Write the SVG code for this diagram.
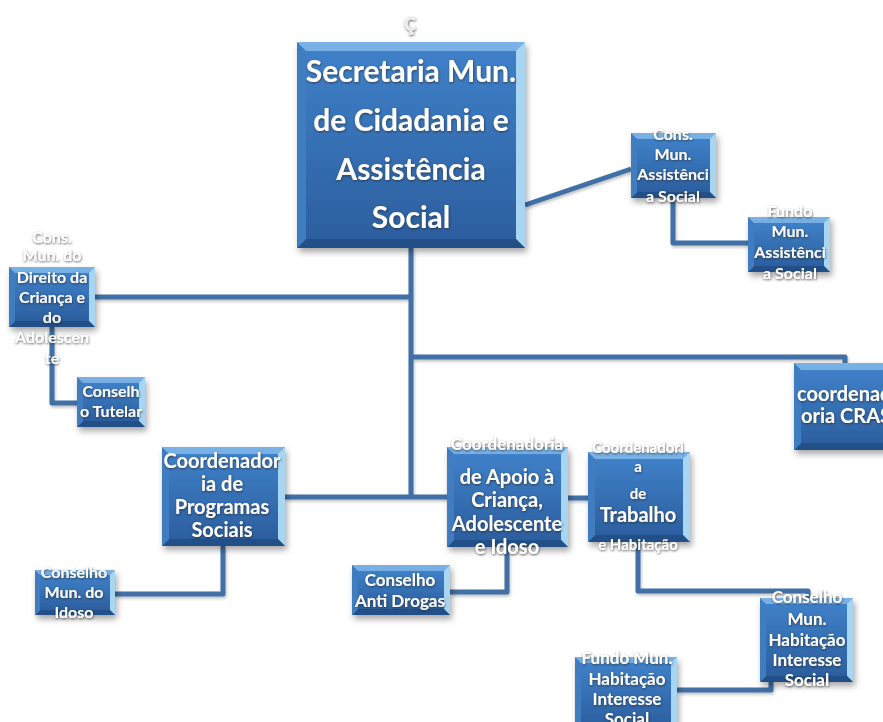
<svg xmlns="http://www.w3.org/2000/svg" width="883" height="722" viewBox="0 0 883 722">
<defs>
<linearGradient id="gin" x1="0" y1="0" x2="0" y2="1">
<stop offset="0" stop-color="#3f80c8"/>
<stop offset="1" stop-color="#2c5f9f"/>
</linearGradient>
<linearGradient id="gtop" x1="0" y1="0" x2="0" y2="1">
<stop offset="0" stop-color="#7ab2e6"/>
<stop offset="1" stop-color="#4f8ccc"/>
</linearGradient>
<filter id="bs" x="-20%" y="-20%" width="140%" height="150%">
<feDropShadow dx="2" dy="4" stdDeviation="3" flood-color="#000" flood-opacity="0.35"/>
</filter>
<filter id="ts" x="-20%" y="-30%" width="140%" height="160%">
<feDropShadow dx="0.5" dy="1" stdDeviation="1.2" flood-color="#2a2a2a" flood-opacity="0.75"/>
</filter>
<filter id="ls" x="-10%" y="-10%" width="120%" height="120%">
<feDropShadow dx="1" dy="2" stdDeviation="1.5" flood-color="#000" flood-opacity="0.25"/>
</filter>
</defs>
<style>
.bt{fill:url(#gtop)}
.bl{fill:#3f7cc0}
.br{fill:#a8d6f2}
.bb{fill:#234f88}
.in{fill:url(#gin)}
.box{filter:url(#bs)}
.t{fill:#ffffff;font-family:Lato,"Open Sans",sans-serif;font-weight:bold;text-anchor:middle;filter:url(#ts)}
.conn path{fill:none;stroke:#3f6fa6;stroke-width:5;stroke-linejoin:round}
</style>
<rect width="883" height="722" fill="#ffffff"/>

<g id="connectors" class="conn" filter="url(#ls)">
<path d="M525 205 L631 169"/>
<path d="M673 198 V243 H748"/>
<path d="M411 248 V498"/>
<path d="M95 297 H411"/>
<path d="M411 357 H845 V363"/>
<path d="M285 497 H447"/>
<path d="M52 327 V403 H77"/>
<path d="M223 546 V594 H115"/>
<path d="M568 498 H588"/>
<path d="M507 547 V592 H450"/>
<path d="M638 542 V591 H808 V598"/>
<path d="M771 682 V690 H677"/>
</g>

<g id="secretaria">
<g class="box">
<rect class="bt" x="297" y="42" width="228" height="206"/>
<path class="br" d="M525 42 L525 248 L516 239 L516 51 Z"/>
<path class="bb" d="M297 248 L525 248 L516 239 L306 239 Z"/>
<path class="bl" d="M297 42 L306 51 L306 239 L297 248 Z"/>
<rect class="in" x="306" y="51" width="210" height="188"/>
</g>
<text class="t" x="410" y="31" font-size="26" style="fill:#ececec">ç</text>
<text class="t" font-size="30"><tspan x="411" y="82">Secretaria Mun.</tspan><tspan x="411" y="131">de Cidadania e</tspan><tspan x="411" y="180">Assistência</tspan><tspan x="411" y="228">Social</tspan></text>
</g>

<g id="cons-assistencia">
<g class="box">
<rect class="bt" x="631" y="133" width="85" height="65"/>
<path class="br" d="M716 133 L716 198 L710 192 L710 139 Z"/>
<path class="bb" d="M631 198 L716 198 L710 192 L637 192 Z"/>
<path class="bl" d="M631 133 L637 139 L637 192 L631 198 Z"/>
<rect class="in" x="637" y="139" width="73" height="53"/>
</g>
<text class="t" font-size="16"><tspan x="673" y="140">Cons.</tspan><tspan x="673" y="160">Mun.</tspan><tspan x="673" y="180">Assistênci</tspan><tspan x="673" y="202">a Social</tspan></text>
</g>

<g id="fundo-assistencia">
<g class="box">
<rect class="bt" x="748" y="217" width="82" height="55"/>
<path class="br" d="M830 217 L830 272 L824 266 L824 223 Z"/>
<path class="bb" d="M748 272 L830 272 L824 266 L754 266 Z"/>
<path class="bl" d="M748 217 L754 223 L754 266 L748 272 Z"/>
<rect class="in" x="754" y="223" width="70" height="43"/>
</g>
<text class="t" font-size="16"><tspan x="790" y="217">Fundo</tspan><tspan x="790" y="237">Mun.</tspan><tspan x="790" y="258">Assistênci</tspan><tspan x="790" y="279">a Social</tspan></text>
</g>

<g id="cmdca">
<g class="box">
<rect class="bt" x="9" y="267" width="86" height="60"/>
<path class="br" d="M95 267 L95 327 L89 321 L89 273 Z"/>
<path class="bb" d="M9 327 L95 327 L89 321 L15 321 Z"/>
<path class="bl" d="M9 267 L15 273 L15 321 L9 327 Z"/>
<rect class="in" x="15" y="273" width="74" height="48"/>
</g>
<text class="t" font-size="16"><tspan x="52" y="243">Cons.</tspan><tspan x="52" y="261">Mun. do</tspan><tspan x="52" y="283">Direito da</tspan><tspan x="52" y="303">Criança e</tspan><tspan x="52" y="323">do</tspan><tspan x="52" y="343">Adolescen</tspan><tspan x="52" y="364">te</tspan></text>
</g>

<g id="conselho-tutelar">
<g class="box">
<rect class="bt" x="77" y="377" width="68" height="50"/>
<path class="br" d="M145 377 L145 427 L139 421 L139 383 Z"/>
<path class="bb" d="M77 427 L145 427 L139 421 L83 421 Z"/>
<path class="bl" d="M77 377 L83 383 L83 421 L77 427 Z"/>
<rect class="in" x="83" y="383" width="56" height="38"/>
</g>
<text class="t" font-size="16"><tspan x="111" y="397">Conselh</tspan><tspan x="111" y="417">o Tutelar</tspan></text>
</g>

<g id="coordenadoria-cras">
<g class="box">
<rect class="bt" x="794" y="363" width="100" height="87"/>
<path class="br" d="M894 363 L894 450 L887 443 L887 370 Z"/>
<path class="bb" d="M794 450 L894 450 L887 443 L801 443 Z"/>
<path class="bl" d="M794 363 L801 370 L801 443 L794 450 Z"/>
<rect class="in" x="801" y="370" width="86" height="73"/>
</g>
<text class="t" font-size="20" style="text-anchor:start"><tspan x="797" y="401">coordenad</tspan><tspan x="801" y="423">oria CRAS</tspan></text>
</g>

<g id="programas-sociais">
<g class="box">
<rect class="bt" x="162" y="447" width="123" height="99"/>
<path class="br" d="M285 447 L285 546 L278 539 L278 454 Z"/>
<path class="bb" d="M162 546 L285 546 L278 539 L169 539 Z"/>
<path class="bl" d="M162 447 L169 454 L169 539 L162 546 Z"/>
<rect class="in" x="169" y="454" width="109" height="85"/>
</g>
<text class="t" font-size="20"><tspan x="222" y="468">Coordenador</tspan><tspan x="222" y="491">ia de</tspan><tspan x="222" y="514">Programas</tspan><tspan x="222" y="537">Sociais</tspan></text>
</g>

<g id="conselho-idoso">
<g class="box">
<rect class="bt" x="35" y="570" width="80" height="45"/>
<path class="br" d="M115 570 L115 615 L110 610 L110 575 Z"/>
<path class="bb" d="M35 615 L115 615 L110 610 L40 610 Z"/>
<path class="bl" d="M35 570 L40 575 L40 610 L35 615 Z"/>
<rect class="in" x="40" y="575" width="70" height="35"/>
</g>
<text class="t" font-size="16"><tspan x="74" y="578">Conselho</tspan><tspan x="74" y="598">Mun. do</tspan><tspan x="74" y="618">Idoso</tspan></text>
</g>

<g id="apoio-crianca">
<g class="box">
<rect class="bt" x="447" y="447" width="121" height="100"/>
<path class="br" d="M568 447 L568 547 L561 540 L561 454 Z"/>
<path class="bb" d="M447 547 L568 547 L561 540 L454 540 Z"/>
<path class="bl" d="M447 447 L454 454 L454 540 L447 547 Z"/>
<rect class="in" x="454" y="454" width="107" height="86"/>
</g>
<text class="t" font-size="17" x="507" y="450">Coordenadoria</text>
<text class="t" font-size="20"><tspan x="507" y="484">de Apoio à</tspan><tspan x="507" y="507">Criança,</tspan><tspan x="507" y="531">Adolescente</tspan><tspan x="507" y="554">e Idoso</tspan></text>
</g>

<g id="trabalho-habitacao">
<g class="box">
<rect class="bt" x="588" y="452" width="102" height="90"/>
<path class="br" d="M690 452 L690 542 L683 535 L683 459 Z"/>
<path class="bb" d="M588 542 L690 542 L683 535 L595 535 Z"/>
<path class="bl" d="M588 452 L595 459 L595 535 L588 542 Z"/>
<rect class="in" x="595" y="459" width="88" height="76"/>
</g>
<text class="t" font-size="15"><tspan x="638" y="453">Coordenadori</tspan><tspan x="638" y="472">a</tspan><tspan x="638" y="499">de</tspan></text>
<text class="t" font-size="20" x="638" y="522">Trabalho</text>
<text class="t" font-size="15" x="638" y="550">e Habitação</text>
</g>

<g id="conselho-antidrogas">
<g class="box">
<rect class="bt" x="352" y="565" width="98" height="50"/>
<path class="br" d="M450 565 L450 615 L444 609 L444 571 Z"/>
<path class="bb" d="M352 615 L450 615 L444 609 L358 609 Z"/>
<path class="bl" d="M352 565 L358 571 L358 609 L352 615 Z"/>
<rect class="in" x="358" y="571" width="86" height="38"/>
</g>
<text class="t" font-size="17"><tspan x="400" y="586">Conselho</tspan><tspan x="400" y="607">Anti Drogas</tspan></text>
</g>

<g id="conselho-habitacao">
<g class="box">
<rect class="bt" x="760" y="598" width="93" height="84"/>
<path class="br" d="M853 598 L853 682 L847 676 L847 604 Z"/>
<path class="bb" d="M760 682 L853 682 L847 676 L766 676 Z"/>
<path class="bl" d="M760 598 L766 604 L766 676 L760 682 Z"/>
<rect class="in" x="766" y="604" width="81" height="72"/>
</g>
<text class="t" font-size="17"><tspan x="807" y="603">Conselho</tspan><tspan x="807" y="625">Mun.</tspan><tspan x="807" y="646">Habitação</tspan><tspan x="807" y="666">Interesse</tspan><tspan x="807" y="686">Social</tspan></text>
</g>

<g id="fundo-habitacao">
<g class="box">
<rect class="bt" x="575" y="657" width="102" height="75"/>
<path class="br" d="M677 657 L677 732 L671 726 L671 663 Z"/>
<path class="bb" d="M575 732 L677 732 L671 726 L581 726 Z"/>
<path class="bl" d="M575 657 L581 663 L581 726 L575 732 Z"/>
<rect class="in" x="581" y="663" width="90" height="63"/>
</g>
<text class="t" font-size="17"><tspan x="627" y="664">Fundo Mun.</tspan><tspan x="627" y="685">Habitação</tspan><tspan x="627" y="705">Interesse</tspan><tspan x="627" y="725">Social</tspan></text>
</g>
</svg>
